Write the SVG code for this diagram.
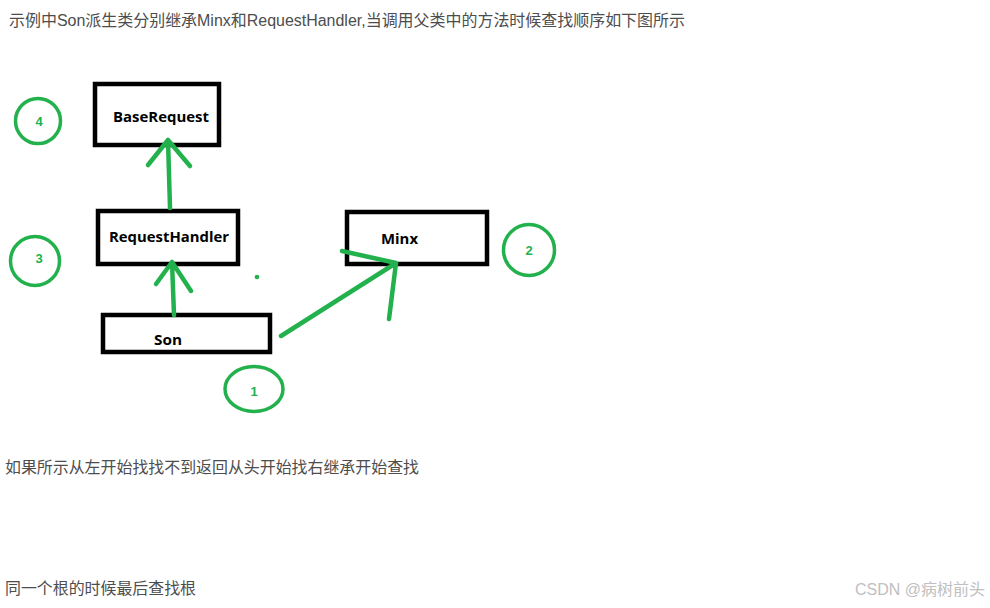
<svg xmlns="http://www.w3.org/2000/svg" width="990" height="608" viewBox="0 0 990 608">
<style>
.t{font-family:"Liberation Sans","Noto Sans CJK SC",sans-serif;font-size:16px;fill:#4d4d4d}
.box{fill:#fff;stroke:#000;stroke-width:4.5}
.lbl{font-family:"Open Sans","Liberation Sans",sans-serif;font-weight:bold;font-size:14px;fill:#000}
.ring{fill:none;stroke:#22b14c;stroke-width:3.5}
.num{font-family:"Liberation Sans",sans-serif;font-weight:bold;font-size:13px;fill:#22b14c;text-anchor:middle}
.g{fill:none;stroke:#22b14c;stroke-width:4.5;stroke-linecap:round;stroke-linejoin:round}
</style>
<rect width="990" height="608" fill="#fff"/>
<text class="t" x="9" y="26" textLength="676" lengthAdjust="spacingAndGlyphs">示例中Son派生类分别继承Minx和RequestHandler,当调用父类中的方法时候查找顺序如下图所示</text>
<g id="baseRequest"><rect class="box" x="95" y="84" width="124" height="61"/><text class="lbl" x="113" y="122" textLength="96" lengthAdjust="spacingAndGlyphs">BaseRequest</text></g>
<g id="requestHandler"><rect class="box" x="98" y="211" width="140" height="53"/><text class="lbl" x="109" y="242" textLength="120" lengthAdjust="spacingAndGlyphs">RequestHandler</text></g>
<g id="minx"><rect class="box" x="347" y="212" width="140" height="52"/><text class="lbl" x="381" y="244" textLength="37" lengthAdjust="spacingAndGlyphs">Minx</text></g>
<g id="son"><rect class="box" x="103" y="315" width="167" height="37"/><text class="lbl" x="154" y="345" textLength="28" lengthAdjust="spacingAndGlyphs">Son</text></g>
<g id="n4"><circle class="ring" cx="38" cy="121" r="22.5"/><text class="num" x="39" y="126">4</text></g>
<g id="n3"><circle class="ring" cx="35" cy="261" r="24.5"/><text class="num" x="39" y="263">3</text></g>
<g id="n2"><circle class="ring" cx="529" cy="250" r="25.5"/><text class="num" x="529" y="255">2</text></g>
<g id="n1"><ellipse class="ring" cx="254" cy="389" rx="29" ry="22.5"/><text class="num" x="254" y="396">1</text></g>
<circle cx="257" cy="277" r="2.3" fill="#22b14c"/>
<g id="connectors">
<path class="g" d="M174,315 L172,262 M156,284 L172,262 L191,291"/>
<path class="g" d="M170,208 L168,140 M148,165 L168,140 L190,166"/>
<path class="g" d="M281,336 L396,263 M342,251 L396,263 L389,319"/>
</g>
<text class="t" x="5" y="473" textLength="414" lengthAdjust="spacingAndGlyphs">如果所示从左开始找找不到返回从头开始找右继承开始查找</text>
<text class="t" x="5" y="594" textLength="191" lengthAdjust="spacingAndGlyphs">同一个根的时候最后查找根</text>
<text class="t" x="985" y="595" text-anchor="end" style="fill:#c0c0c0">CSDN @病树前头</text>
</svg>
